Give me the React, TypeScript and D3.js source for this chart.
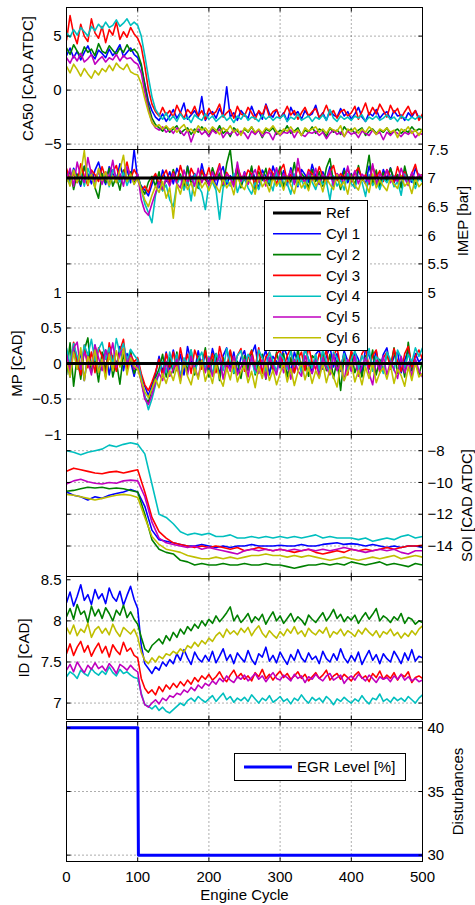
import * as d3 from 'd3';

// sample grid (engine cycle) for the logged signals
const CYCLES = d3.range(0, 501, 5);
const SOI_CYCLES = d3.range(0, 501, 10);
const REF_CYCLES = [0, 500];
const EGR_CYCLES = [0, 100, 101, 500];

const CYL_NAMES = ['Cyl 1', 'Cyl 2', 'Cyl 3', 'Cyl 4', 'Cyl 5', 'Cyl 6'];
const CYL_COLORS = ['#0000ff', '#008000', '#ff0000', '#00bfbf', '#bf00bf', '#bfbf00'];
const X_TICKS = [0, 100, 200, 300, 400, 500];

// ---- CA50 [CAD ATDC]
const ca50Cyl1 = [
  3.2, 3.9, 3.0, 3.6, 2.8, 3.5, 4.1, 3.3, 2.9, 3.7,
  3.4, 3.0, 3.8, 3.2, 3.6, 4.2, 3.1, 3.5, 3.9, 3.3,
  3.0, 2.2, 0.6, -1.0, -1.9, -2.5, -2.8, -2.2, -2.9, -2.4,
  -1.8, -2.6, -2.1, -1.2, -2.7, -2.3, -1.9, -2.5, -0.6, -2.8,
  -2.2, -2.0, -2.6, -1.7, -2.4, 0.3, -2.5, -2.1, -2.8, -1.9,
  -2.3, -2.6, -1.5, -2.4, -2.0, -2.7, -1.3, -2.2, -2.5, -1.8,
  -2.6, -2.1, -2.9, -1.6, -2.3, -2.0, -2.7, -1.9, -2.4, -2.2,
  -1.4, -2.6, -2.1, -2.8, -1.9, -2.3, -2.5, -1.7, -2.4, -2.0,
  -2.7, -2.2, -1.6, -2.5, -2.9, -2.1, -2.4, -1.8, -2.6, -2.2,
  -2.0, -2.7, -1.9, -2.4, -2.3, -2.8, -2.1, -2.5, -1.9, -2.6,
  -2.4,
];
const ca50Cyl2 = [
  3.9, 3.3, 4.2, 3.6, 3.1, 4.0, 3.5, 3.8, 3.2, 4.3,
  3.6, 3.4, 4.1, 3.7, 3.3, 3.9, 3.5, 4.2, 3.6, 3.8,
  3.4, 2.4, 0.4, -1.4, -2.6, -3.2, -3.5, -3.8, -3.4, -3.9,
  -3.6, -3.3, -4.0, -3.7, -3.5, -4.1, -3.6, -3.9, -3.4, -3.8,
  -4.2, -3.6, -3.9, -3.3, -4.0, -3.7, -4.3, -3.5, -3.8, -4.1,
  -3.6, -3.9, -3.4, -4.0, -3.7, -4.4, -3.6, -3.8, -3.5, -4.1,
  -3.7, -3.9, -3.3, -4.0, -3.8, -3.5, -4.2, -3.7, -3.9, -3.4,
  -4.0, -3.6, -3.8, -4.3, -3.5, -3.9, -3.7, -4.1, -3.4, -3.8,
  -3.6, -4.0, -3.7, -3.5, -4.2, -3.8, -3.6, -4.0, -3.7, -3.9,
  -3.5, -4.1, -3.8, -3.6, -4.0, -3.7, -3.9, -3.4, -3.8, -3.6,
  -3.7,
];
const ca50Cyl3 = [
  4.6, 6.9, 5.2, 4.3, 6.1, 5.0, 4.5, 6.6, 5.3, 4.8,
  5.9, 4.4, 5.6, 5.1, 6.3, 4.7, 5.4, 4.9, 5.8, 5.2,
  4.8, 4.0, 2.2, 0.1, -1.3, -2.0, -2.4, -1.6, -2.3, -1.9,
  -2.5, -1.4, -2.1, -2.6, -1.8, -2.2, -1.5, -2.4, -1.9, -2.7,
  -1.7, -2.3, -2.0, -1.3, -2.5, -2.1, -1.8, -2.6, -1.5, -2.2,
  -2.4, -1.6, -2.1, -2.7, -1.9, -2.3, -1.4, -2.5, -2.0, -1.8,
  -2.6, -2.2, -1.5, -2.3, -1.9, -2.7, -2.1, -1.6, -2.4, -2.0,
  -1.7, -2.5, -2.2, -1.4, -2.3, -1.9, -2.6, -2.0, -1.8, -2.4,
  -2.1, -1.5, -2.7, -2.0, -1.2, -2.3, -1.6, -2.2, -1.3, -1.9,
  -2.5, -1.4, -2.1, -1.7, -2.6, -2.0, -1.5, -2.3, -1.9, -2.8,
  -2.2,
];
const ca50Cyl4 = [
  5.3, 4.9, 5.6, 5.1, 5.8, 5.4, 5.0, 5.9, 5.5, 6.1,
  5.7, 6.3, 5.8, 6.0, 6.5, 5.9, 6.2, 6.6, 6.0, 6.3,
  6.0, 5.0, 3.2, 1.2, -0.6, -1.8, -2.3, -2.7, -2.1, -2.8,
  -2.4, -2.9, -2.2, -2.7, -2.5, -3.0, -2.3, -2.6, -2.8, -2.2,
  -2.7, -2.4, -2.9, -2.6, -2.3, -2.8, -2.5, -3.0, -2.4, -2.7,
  -2.2, -2.8, -2.5, -2.6, -2.9, -2.3, -2.7, -2.4, -2.8, -2.5,
  -2.6, -2.3, -2.9, -2.5, -2.7, -2.2, -2.8, -2.6, -2.4, -2.9,
  -2.5, -2.7, -2.3, -2.8, -1.8, -2.6, -2.9, -2.4, -2.7, -2.5,
  -2.8, -2.4, -2.6, -2.3, -2.9, -2.5, -2.7, -2.4, -2.8, -2.6,
  -2.3, -2.7, -2.5, -2.9, -2.4, -2.6, -2.8, -2.5, -2.7, -2.4,
  -2.6,
];
const ca50Cyl5 = [
  3.0, 2.5, 3.2, 2.7, 3.4, 2.6, 2.9, 3.3, 2.4, 2.8,
  3.1, 2.6, 3.0, 2.8, 3.3, 2.7, 3.2, 2.9, 3.0, 2.6,
  2.4, 1.6, -0.2, -1.8, -3.0, -3.5, -3.7, -3.4, -3.9, -3.6,
  -4.0, -3.5, -3.8, -4.2, -3.7, -4.8, -3.9, -3.6, -4.1, -3.8,
  -4.3, -3.7, -4.0, -3.6, -4.4, -3.9, -4.1, -3.7, -4.2, -3.8,
  -4.0, -4.5, -3.8, -4.1, -3.7, -4.3, -3.9, -4.0, -4.6, -3.8,
  -4.2, -3.9, -4.0, -3.7, -4.4, -3.8, -4.1, -4.3, -3.9, -4.0,
  -3.8, -4.2, -3.9, -4.5, -4.0, -3.7, -4.1, -3.9, -4.3, -3.8,
  -4.1, -3.9, -4.4, -3.8, -4.0, -4.2, -3.7, -4.1, -3.9, -4.6,
  -3.9, -4.2, -3.8, -4.0, -4.3, -3.9, -4.1, -3.8, -4.4, -4.0,
  -4.1,
];
const ca50Cyl6 = [
  2.2, 1.6, 2.4, 1.9, 1.3, 2.0, 1.5, 1.1, 1.8, 1.4,
  2.0, 1.7, 2.3, 1.8, 2.5, 2.1, 1.9, 2.4, 1.7, 1.5,
  1.4, 0.6, -0.8, -2.0, -3.0, -3.4, -3.2, -3.6, -3.3, -3.7,
  -3.4, -3.9, -3.5, -3.2, -3.8, -3.6, -4.0, -3.3, -3.7, -3.5,
  -3.9, -3.4, -3.7, -4.1, -3.5, -3.8, -3.3, -3.9, -3.6, -4.2,
  -3.5, -3.8, -3.4, -3.9, -3.6, -4.0, -3.5, -3.7, -3.3, -3.8,
  -4.1, -3.6, -3.8, -3.4, -3.9, -3.7, -4.2, -3.5, -3.8, -3.6,
  -3.4, -3.9, -3.6, -4.0, -3.5, -3.7, -3.8, -3.3, -4.3, -3.6,
  -3.8, -3.5, -4.0, -3.6, -3.9, -3.4, -3.7, -4.1, -3.6, -3.8,
  -3.5, -3.9, -3.7, -4.4, -3.6, -3.8, -3.4, -4.0, -3.7, -4.2,
  -3.6,
];

// ---- IMEP [bar]
const imepRef = [7, 7];
const imepCyl1 = [
  7.11, 6.93, 7.17, 7.03, 6.86, 7.21, 7.07, 6.90, 7.14, 7.28,
  7.04, 6.89, 7.20, 7.08, 6.96, 7.25, 7.00, 7.15, 6.92, 7.50,
  6.97, 6.86, 6.79, 6.69, 6.89, 7.06, 6.83, 7.14, 6.94, 7.11,
  6.90, 7.17, 7.03, 6.80, 7.21, 6.97, 7.08, 6.87, 7.25, 7.00,
  6.93, 7.14, 6.83, 7.07, 7.20, 6.89, 7.04, 6.96, 7.22, 6.86,
  7.11, 6.92, 7.17, 6.99, 6.82, 7.14, 7.03, 6.90, 7.21, 7.01,
  6.94, 7.13, 6.87, 7.18, 7.00, 6.85, 7.15, 7.06, 6.93, 7.24,
  7.03, 6.89, 7.11, 6.97, 7.20, 6.86, 7.07, 6.99, 7.17, 6.92,
  7.08, 6.83, 7.14, 7.01, 6.90, 7.21, 6.96, 7.10, 6.87, 7.15,
  6.99, 7.18, 6.92, 7.06, 6.86, 7.13, 7.00, 6.93, 7.17, 7.04,
  6.96,
];
const imepCyl2 = [
  6.93, 7.14, 6.80, 7.07, 6.89, 7.20, 6.97, 7.11, 6.83, 6.65,
  7.08, 6.92, 7.17, 6.86, 7.03, 6.79, 7.14, 6.96, 7.11, 6.90,
  7.06, 6.83, 6.72, 6.93, 7.03, 6.86, 7.11, 6.78, 7.00, 6.89,
  7.15, 6.94, 7.07, 6.85, 7.20, 6.90, 7.03, 6.82, 7.13, 6.97,
  6.89, 7.18, 6.99, 7.08, 6.86, 7.25, 7.50, 6.93, 7.14, 6.83,
  7.04, 6.92, 7.21, 6.80, 7.11, 6.96, 7.17, 6.87, 7.07, 6.99,
  7.20, 6.85, 7.03, 6.93, 7.27, 6.89, 7.08, 7.00, 6.82, 7.15,
  6.94, 7.11, 6.86, 7.18, 7.34, 6.92, 7.04, 6.80, 7.13, 6.97,
  7.07, 6.87, 7.22, 6.96, 7.03, 7.40, 6.90, 7.14, 6.85, 7.10,
  6.93, 7.17, 6.99, 7.06, 6.83, 7.21, 6.94, 7.08, 6.89, 7.03,
  7.06,
];
const imepCyl3 = [
  7.17, 6.97, 7.08, 6.92, 7.25, 7.03, 6.87, 7.14, 7.06, 6.94,
  7.20, 7.00, 6.90, 7.11, 7.22, 6.96, 7.07, 7.28, 6.99, 7.15,
  7.03, 6.78, 6.86, 6.75, 6.97, 7.08, 6.90, 7.03, 7.14, 6.93,
  7.11, 6.92, 7.22, 7.00, 6.87, 7.17, 7.04, 6.94, 7.14, 6.97,
  7.18, 6.93, 7.06, 7.25, 6.89, 7.10, 7.00, 6.90, 7.20, 7.03,
  6.96, 7.14, 7.07, 6.86, 7.21, 7.01, 6.93, 7.17, 7.08, 6.89,
  7.13, 7.24, 6.94, 7.06, 6.97, 7.18, 7.01, 6.92, 7.15, 7.07,
  6.99, 7.20, 7.03, 6.90, 7.11, 7.22, 6.96, 7.08, 7.00, 7.17,
  6.92, 7.10, 7.18, 6.97, 7.06, 6.89, 7.21, 7.01, 7.13, 6.94,
  7.15, 7.04, 6.93, 7.20, 7.00, 7.11, 6.90, 7.08, 7.24, 6.97,
  7.07,
];
const imepCyl4 = [
  7.06, 6.89, 7.14, 6.96, 7.08, 6.86, 7.17, 7.00, 6.92, 7.11,
  6.94, 7.07, 6.85, 7.15, 7.03, 6.93, 7.10, 6.87, 7.04, 6.97,
  7.06, 6.80, 6.55, 6.40, 6.22, 6.70, 6.92, 6.78, 6.88, 6.62,
  6.50, 6.89, 7.03, 6.79, 6.97, 6.60, 7.06, 6.86, 6.75, 6.45,
  6.89, 6.93, 6.79, 6.28, 6.83, 6.97, 6.86, 7.08, 6.75, 6.93,
  7.00, 6.83, 6.72, 6.92, 6.80, 7.04, 6.89, 6.96, 6.78, 7.11,
  6.85, 7.03, 6.90, 6.72, 7.07, 6.87, 6.97, 6.82, 7.06, 6.93,
  6.80, 7.01, 6.89, 6.94, 6.62, 7.04, 6.86, 6.97, 6.79, 7.08,
  6.90, 6.83, 7.03, 6.93, 6.68, 7.06, 6.87, 6.96, 6.80, 7.00,
  6.92, 7.04, 6.85, 6.94, 6.70, 7.07, 6.89, 6.99, 6.82, 7.01,
  6.93,
];
const imepCyl5 = [
  6.97, 7.17, 6.86, 7.28, 7.03, 6.92, 7.36, 7.07, 6.94, 7.14,
  6.89, 7.11, 7.00, 7.31, 6.93, 7.08, 6.86, 7.20, 7.03, 6.96,
  7.07, 6.62, 6.42, 6.35, 6.55, 6.74, 6.93, 6.80, 7.00, 6.86,
  7.08, 6.90, 6.83, 7.14, 6.94, 7.03, 6.86, 7.17, 6.92, 7.06,
  6.87, 7.11, 6.96, 7.21, 6.90, 7.07, 7.00, 6.85, 7.28, 6.94,
  7.10, 6.89, 7.03, 7.15, 6.93, 7.06, 6.86, 7.13, 6.97, 7.18,
  6.92, 7.08, 6.99, 7.14, 6.89, 7.34, 7.01, 6.93, 7.11, 6.96,
  7.17, 6.90, 7.06, 6.97, 7.14, 6.87, 7.08, 7.00, 6.92, 7.21,
  6.96, 7.13, 6.90, 7.07, 7.01, 6.93, 7.25, 6.89, 7.08, 6.99,
  7.14, 6.92, 7.04, 6.94, 7.17, 7.00, 6.87, 7.10, 6.97, 7.07,
  7.03,
];
const imepCyl6 = [
  7.03, 6.86, 7.14, 6.93, 7.08, 7.48, 6.89, 7.06, 6.83, 7.17,
  6.96, 7.11, 6.87, 7.04, 6.92, 7.14, 7.40, 6.94, 7.07, 6.89,
  7.00, 6.80, 6.62, 6.50, 6.70, 6.86, 6.75, 6.94, 6.65, 6.83,
  6.30, 6.89, 6.72, 6.97, 6.80, 6.92, 6.69, 7.03, 6.83, 6.93,
  6.78, 6.96, 6.86, 6.75, 7.00, 6.83, 6.93, 6.71, 7.04, 6.87,
  6.80, 6.99, 6.89, 6.72, 7.06, 6.85, 6.94, 6.76, 7.01, 6.86,
  6.96, 6.79, 7.03, 6.87, 6.73, 7.00, 6.83, 6.93, 6.78, 7.04,
  6.86, 6.97, 6.76, 7.01, 6.89, 6.80, 7.06, 6.85, 6.94, 6.72,
  7.03, 6.87, 6.79, 7.00, 6.90, 6.75, 7.07, 6.83, 6.96, 6.86,
  6.78, 7.01, 6.89, 6.82, 7.04, 6.86, 6.93, 6.73, 7.00, 6.85,
  6.92,
];

// ---- MP [CAD]
const mpRef = [0, 0];
const mpCyl1 = [
  0.08, -0.19, 0.22, -0.08, 0.16, -0.24, 0.13, -0.03, 0.26, -0.13,
  0.06, 0.19, -0.16, 0.11, -0.06, 0.24, -0.10, 0.14, 0.03, -0.18,
  0.05, -0.18, -0.32, -0.45, -0.30, -0.15, 0.10, -0.13, 0.16, -0.08,
  0.19, -0.06, 0.13, -0.16, 0.24, 0.03, -0.11, 0.18, -0.05, 0.14,
  -0.10, 0.21, 0.02, -0.14, 0.11, 0.22, -0.06, 0.16, -0.13, 0.08,
  0.18, -0.08, 0.13, 0.26, -0.11, 0.05, 0.19, -0.16, 0.10, 0.03,
  -0.06, 0.22, 0.11, -0.13, 0.16, 0.02, -0.10, 0.21, 0.06, -0.14,
  0.13, 0.19, -0.08, 0.10, 0.24, -0.05, 0.14, -0.11, 0.18, 0.03,
  -0.10, 0.16, 0.06, -0.14, 0.21, 0.11, -0.03, 0.18, -0.08, 0.13,
  0.22, -0.06, 0.10, 0.16, -0.13, 0.05, 0.19, -0.10, 0.14, 0.02,
  0.08,
];
const mpCyl2 = [
  -0.16, 0.29, -0.32, 0.10, -0.22, 0.19, 0.36, -0.13, 0.06, -0.26,
  0.16, -0.10, 0.24, -0.19, 0.03, -0.29, 0.13, -0.06, 0.19, -0.14,
  -0.03, -0.24, -0.48, -0.55, -0.36, -0.20, -0.08, 0.13, -0.19, 0.08,
  -0.13, 0.16, -0.22, 0.06, -0.10, 0.19, -0.16, 0.10, -0.03, 0.22,
  -0.19, 0.05, 0.14, -0.24, 0.08, -0.06, 0.18, -0.14, 0.03, -0.21,
  0.11, -0.10, 0.19, -0.16, 0.02, 0.13, -0.22, 0.06, -0.11, 0.16,
  -0.05, 0.14, -0.19, 0.08, -0.13, 0.21, -0.08, 0.03, -0.18, 0.11,
  0.06, -0.14, 0.18, -0.10, 0.13, -0.21, 0.05, -0.38, 0.10, -0.06,
  0.16, -0.13, 0.03, -0.19, 0.11, -0.08, 0.19, -0.16, 0.06, -0.11,
  0.14, -0.05, 0.22, -0.14, 0.08, -0.19, 0.30, -0.10, 0.05, -0.16,
  0.03,
];
const mpCyl3 = [
  0.19, -0.10, 0.30, 0.03, -0.16, 0.26, -0.06, 0.16, -0.13, 0.22,
  0.10, -0.19, 0.29, 0.05, -0.11, 0.18, 0.34, -0.08, 0.13, 0.02,
  0.08, -0.14, -0.30, -0.38, -0.26, -0.12, 0.06, -0.18, 0.14, -0.05,
  0.16, -0.10, 0.22, -0.03, 0.13, -0.14, 0.19, 0.05, -0.08, 0.18,
  -0.05, 0.14, -0.13, 0.24, 0.03, -0.10, 0.19, -0.06, 0.11, 0.21,
  -0.11, 0.08, 0.18, -0.05, 0.22, -0.14, 0.10, 0.16, -0.08, 0.13,
  0.19, -0.06, 0.11, 0.21, -0.13, 0.06, 0.16, -0.10, 0.24, 0.02,
  -0.08, 0.14, 0.03, 0.19, -0.11, 0.10, 0.22, -0.05, 0.13, -0.16,
  0.18, 0.05, -0.10, 0.14, 0.22, -0.06, 0.11, 0.19, -0.13, 0.08,
  0.16, -0.08, 0.21, 0.03, -0.11, 0.14, 0.24, -0.05, 0.10, 0.19,
  0.06,
];
const mpCyl4 = [
  0.22, -0.02, 0.28, 0.10, -0.08, 0.26, 0.12, 0.34, 0.04, 0.20,
  0.30, 0.06, 0.22, -0.02, 0.35, 0.14, 0.28, 0.04, 0.20, 0.12,
  0.05, -0.20, -0.45, -0.65, -0.50, -0.30, -0.14, 0.03, -0.13, 0.16,
  -0.06, 0.13, -0.19, 0.08, -0.03, 0.19, -0.13, 0.06, 0.16, -0.08,
  0.10, -0.16, 0.14, 0.03, -0.10, 0.21, 0.02, -0.13, 0.11, 0.18,
  -0.06, 0.13, 0.05, -0.14, 0.19, 0.08, -0.10, 0.16, 0.03, -0.11,
  0.14, 0.06, -0.08, 0.18, -0.03, 0.11, -0.14, 0.21, 0.05, -0.06,
  0.13, -0.10, 0.19, 0.02, -0.13, 0.16, 0.08, -0.05, 0.14, -0.11,
  0.06, 0.18, -0.08, 0.11, -0.03, 0.21, -0.11, 0.10, 0.03, -0.14,
  0.16, 0.05, -0.10, 0.19, 0.08, -0.06, 0.13, 0.02, 0.22, 0.10,
  0.22,
];
const mpCyl5 = [
  0.13, -0.13, 0.22, 0.30, -0.08, 0.16, 0.03, -0.16, 0.26, 0.08,
  -0.10, 0.19, 0.06, 0.29, -0.05, 0.14, 0.21, 0.00, 0.11, -0.08,
  -0.03, -0.26, -0.50, -0.58, -0.44, -0.26, -0.14, -0.24, 0.03, -0.18,
  -0.08, 0.06, -0.24, 0.03, -0.16, 0.10, -0.06, -0.19, 0.05, -0.13,
  0.08, -0.18, -0.03, 0.13, -0.22, 0.02, -0.11, 0.10, -0.16, -0.05,
  0.06, -0.19, 0.11, -0.08, -0.14, 0.05, -0.21, 0.08, -0.03, -0.16,
  0.10, -0.13, 0.03, -0.22, 0.06, -0.10, -0.18, 0.11, -0.05, -0.14,
  0.05, -0.19, 0.08, -0.06, -0.16, 0.13, -0.10, 0.02, -0.24, 0.06,
  -0.11, 0.10, -0.18, -0.03, 0.08, -0.14, -0.30, 0.05, -0.10, 0.11,
  -0.16, 0.03, -0.08, -0.21, 0.10, -0.13, 0.02, -0.18, 0.06, -0.10,
  -0.19,
];
const mpCyl6 = [
  0.03, -0.19, 0.16, -0.08, 0.22, -0.24, 0.10, -0.03, 0.19, -0.13,
  0.06, -0.22, 0.13, -0.10, 0.18, -0.05, 0.21, -0.16, 0.08, -0.03,
  -0.08, -0.24, -0.40, -0.48, -0.36, -0.22, -0.34, -0.14, -0.28, -0.10,
  -0.24, -0.04, -0.28, 0.02, -0.18, -0.30, -0.06, -0.22, 0.04, -0.25,
  -0.10, -0.28, 0.00, -0.20, -0.32, -0.06, -0.23, 0.03, -0.26, -0.12,
  -0.03, -0.27, -0.11, -0.34, -0.04, -0.21, 0.02, -0.24, -0.09, -0.30,
  -0.14, 0.01, -0.26, -0.07, -0.31, -0.12, 0.02, -0.23, -0.05, -0.28,
  -0.10, -0.21, 0.00, -0.27, -0.08, -0.19, -0.33, -0.02, -0.24, -0.11,
  0.02, -0.26, -0.10, -0.30, -0.05, -0.21, 0.01, -0.27, -0.13, -0.06,
  -0.22, -0.02, -0.28, -0.08, -0.17, -0.32, -0.05, -0.24, 0.01, -0.19,
  -0.14,
];

// ---- SOI [CAD ATDC], every 10 cycles
const soiCyl1 = [
  -10.6, -10.8, -10.9, -11.1, -10.9, -11.0, -10.8, -10.7, -10.6, -10.45,
  -10.6, -11.5, -13.0, -13.6, -13.7, -13.8, -13.9, -14.0, -14.0, -13.9,
  -14.0, -14.1, -14.0, -14.1, -14.0, -14.0, -13.9, -14.0, -14.0, -14.0,
  -13.95, -14.0, -14.0, -13.9, -14.0, -14.0, -13.9, -13.85, -13.8, -13.9,
  -13.85, -13.9, -14.0, -13.9, -14.0, -14.1, -14.0, -14.1, -14.0, -14.0,
  -14.1,
];
const soiCyl2 = [
  -10.55, -10.5, -10.4, -10.3, -10.35, -10.3, -10.4, -10.35, -10.4, -10.5,
  -10.6, -12.0, -13.6, -14.2, -14.4, -14.5, -14.9, -15.0, -15.2, -15.1,
  -15.2, -15.2, -15.1, -15.2, -15.2, -15.1, -15.2, -15.2, -15.1, -15.2,
  -15.2, -15.3, -15.4, -15.3, -15.2, -15.2, -15.1, -15.2, -15.1, -15.2,
  -15.0, -15.1, -15.2, -15.1, -15.0, -15.2, -15.1, -15.2, -15.3, -15.1,
  -15.2,
];
const soiCyl3 = [
  -9.3, -9.1, -9.2, -9.3, -9.4, -9.45, -9.35, -9.3, -9.4, -9.3,
  -9.2, -10.6, -12.2, -13.1, -13.5, -13.8, -13.9, -14.0, -14.1, -14.0,
  -14.1, -14.0, -14.1, -14.2, -14.1, -14.3, -14.2, -14.1, -14.2, -14.3,
  -14.2, -14.3, -14.4, -14.3, -14.2, -14.4, -14.5, -14.4, -14.3, -14.4,
  -14.2, -14.3, -14.2, -14.3, -14.2, -14.1, -14.2, -14.1, -14.0, -14.0,
  -13.95,
];
const soiCyl4 = [
  -8.0, -8.1, -8.25, -8.1, -8.0, -7.9, -7.65, -7.75, -7.6, -7.5,
  -7.6, -8.2, -10.1, -12.0, -12.2, -12.6, -13.1, -13.3, -13.2, -13.3,
  -13.2, -13.4, -13.4, -13.3, -13.5, -13.5, -13.4, -13.5, -13.4, -13.5,
  -13.4, -13.5, -13.4, -13.5, -13.4, -13.3, -13.5, -13.4, -13.5, -13.5,
  -13.5, -13.6, -13.5, -13.7, -13.6, -13.5, -13.6, -13.4, -13.3, -13.5,
  -13.4,
];
const soiCyl5 = [
  -10.1, -9.9, -9.8, -9.95, -10.05, -10.1, -10.0, -10.05, -9.9, -9.85,
  -9.9, -10.9, -12.5, -13.5, -13.8, -13.9, -14.0, -14.1, -14.0, -14.2,
  -14.1, -14.2, -14.3, -14.4, -14.5, -14.3, -14.2, -14.3, -14.2, -14.3,
  -14.2, -14.3, -14.2, -14.3, -14.2, -14.3, -14.2, -14.3, -14.2, -14.1,
  -14.2, -14.3, -14.4, -14.3, -14.2, -14.3, -14.2, -14.4, -14.5, -14.3,
  -14.3,
];
const soiCyl6 = [
  -10.75, -10.8, -10.9, -11.0, -11.1, -11.0, -10.9, -10.8, -10.75, -10.8,
  -10.95, -12.2, -13.4, -13.9, -14.2, -14.3, -14.4, -14.6, -14.7, -14.8,
  -14.8, -14.7, -14.8, -14.7, -14.8, -14.7, -14.6, -14.6, -14.5, -14.6,
  -14.6, -14.7, -14.6, -14.7, -14.6, -14.7, -14.8, -14.9, -14.8, -14.7,
  -14.8, -14.9, -14.8, -14.7, -14.8, -14.7, -14.6, -14.8, -14.7, -14.6,
  -14.7,
];

// ---- ID [CAD]
const idCyl1 = [
  8.22, 8.35, 8.18, 8.30, 8.44, 8.25, 8.32, 8.20, 8.38, 8.27,
  8.33, 8.21, 8.40, 8.29, 8.24, 8.36, 8.19, 8.31, 8.42, 8.26,
  8.15, 7.70, 7.48, 7.42, 7.36, 7.44, 7.40, 7.50, 7.45, 7.53,
  7.48, 7.60, 7.52, 7.65, 7.55, 7.47, 7.62, 7.54, 7.50, 7.58,
  7.51, 7.63, 7.49, 7.57, 7.66, 7.52, 7.59, 7.48, 7.61, 7.55,
  7.50, 7.64, 7.53, 7.47, 7.60, 7.56, 7.68, 7.51, 7.58, 7.49,
  7.62, 7.54, 7.47, 7.59, 7.52, 7.65, 7.55, 7.50, 7.61, 7.53,
  7.57, 7.48, 7.63, 7.54, 7.50, 7.60, 7.52, 7.66, 7.55, 7.49,
  7.58, 7.51, 7.62, 7.47, 7.56, 7.64, 7.52, 7.59, 7.48, 7.60,
  7.54, 7.50, 7.63, 7.56, 7.48, 7.61, 7.52, 7.65, 7.51, 7.57,
  7.55,
];
const idCyl2 = [
  8.05, 8.15, 8.02, 8.20, 8.08, 8.12, 7.98, 8.18, 8.06, 8.14,
  8.03, 8.16, 8.09, 8.00, 8.13, 8.07, 8.19, 8.04, 8.11, 8.02,
  7.96, 7.80, 7.66, 7.62, 7.70, 7.74, 7.78, 7.72, 7.82, 7.76,
  7.86, 7.80, 7.90, 7.84, 7.93, 7.88, 7.96, 7.91, 8.00, 7.94,
  8.02, 7.97, 8.06, 7.99, 8.04, 8.10, 8.17, 8.00, 8.07, 7.98,
  8.03, 8.09, 7.98, 8.05, 8.01, 8.08, 7.96, 8.04, 8.11, 8.00,
  8.06, 7.97, 8.03, 8.09, 7.99, 8.05, 8.01, 7.95, 8.07, 8.02,
  7.98, 8.04, 8.10, 8.00, 8.06, 8.14, 8.03, 8.08, 7.99, 8.05,
  8.01, 8.07, 7.97, 8.04, 8.10, 8.02, 8.08, 8.15, 8.00, 8.06,
  8.03, 7.98, 8.05, 8.01, 8.09, 7.97, 8.04, 8.02, 7.96, 8.00,
  7.98,
];
const idCyl3 = [
  7.60, 7.72, 7.58, 7.68, 7.75, 7.62, 7.70, 7.57, 7.66, 7.73,
  7.61, 7.69, 7.56, 7.71, 7.64, 7.59, 7.74, 7.63, 7.67, 7.58,
  7.55, 7.30, 7.18, 7.12, 7.16, 7.10, 7.20, 7.14, 7.22, 7.17,
  7.24, 7.19, 7.26, 7.21, 7.28, 7.23, 7.31, 7.26, 7.33, 7.29,
  7.35, 7.28, 7.32, 7.38, 7.30, 7.26, 7.34, 7.40, 7.31, 7.36,
  7.29, 7.33, 7.27, 7.37, 7.32, 7.41, 7.30, 7.35, 7.28, 7.34,
  7.39, 7.31, 7.36, 7.29, 7.33, 7.38, 7.30, 7.35, 7.27, 7.32,
  7.37, 7.30, 7.34, 7.40, 7.28, 7.33, 7.36, 7.29, 7.35, 7.31,
  7.27, 7.34, 7.38, 7.30, 7.33, 7.26, 7.36, 7.31, 7.39, 7.29,
  7.34, 7.30, 7.37, 7.28, 7.35, 7.32, 7.38, 7.25, 7.31, 7.33,
  7.30,
];
const idCyl4 = [
  7.32, 7.38, 7.35, 7.30, 7.40, 7.36, 7.33, 7.42, 7.37, 7.34,
  7.39, 7.35, 7.44, 7.37, 7.33, 7.41, 7.36, 7.38, 7.34, 7.31,
  7.30, 7.12, 6.98, 6.96, 6.93, 6.97, 6.91, 6.95, 6.90, 6.88,
  6.92, 6.96, 7.00, 6.97, 7.03, 7.06, 7.02, 7.08, 7.04, 7.01,
  7.05, 7.09, 7.02, 7.07, 7.12, 7.04, 7.08, 7.01, 7.06, 7.03,
  7.07, 7.02, 7.10, 7.05, 7.00, 7.06, 7.03, 7.09, 7.01, 7.04,
  7.08, 7.02, 7.05, 6.99, 7.06, 7.03, 7.10, 7.04, 7.00, 7.07,
  7.03, 7.06, 7.01, 7.08, 7.04, 6.98, 7.05, 7.02, 7.07, 7.03,
  7.00, 7.05, 7.02, 7.09, 7.03, 6.99, 7.06, 7.04, 7.11, 7.02,
  7.05, 7.01, 7.07, 7.03, 7.06, 7.02, 7.08, 7.04, 7.00, 7.06,
  7.10,
];
const idCyl5 = [
  7.40, 7.47, 7.38, 7.50, 7.43, 7.37, 7.46, 7.41, 7.49, 7.42,
  7.45, 7.39, 7.48, 7.43, 7.36, 7.47, 7.44, 7.40, 7.46, 7.41,
  7.38, 7.10, 6.98, 6.95, 7.00, 7.04, 6.99, 7.06, 7.03, 7.09,
  7.07, 7.12, 7.10, 7.16, 7.13, 7.19, 7.15, 7.22, 7.18, 7.24,
  7.21, 7.27, 7.23, 7.30, 7.26, 7.33, 7.28, 7.25, 7.32, 7.29,
  7.34, 7.27, 7.31, 7.36, 7.29, 7.33, 7.26, 7.32, 7.37, 7.30,
  7.28, 7.34, 7.31, 7.27, 7.35, 7.30, 7.33, 7.25, 7.32, 7.29,
  7.35, 7.30, 7.27, 7.33, 7.36, 7.28, 7.31, 7.34, 7.24, 7.30,
  7.33, 7.28, 7.35, 7.31, 7.27, 7.34, 7.30, 7.25, 7.32, 7.29,
  7.31, 7.26, 7.33, 7.29, 7.35, 7.28, 7.32, 7.27, 7.30, 7.26,
  7.28,
];
const idCyl6 = [
  7.92, 7.84, 7.95, 7.82, 7.90, 7.86, 7.97, 7.80, 7.89, 7.93,
  7.85, 7.91, 7.83, 7.96, 7.87, 7.81, 7.92, 7.88, 7.84, 7.90,
  7.80, 7.62, 7.52, 7.48, 7.55, 7.50, 7.57, 7.54, 7.60, 7.58,
  7.63, 7.60, 7.66, 7.62, 7.70, 7.67, 7.74, 7.69, 7.76, 7.72,
  7.79, 7.75, 7.82, 7.86, 7.80, 7.90, 7.84, 7.88, 7.83, 7.91,
  7.86, 7.92, 7.82, 7.89, 7.94, 7.85, 7.80, 7.88, 7.83, 7.79,
  7.87, 7.82, 7.90, 7.85, 7.93, 7.84, 7.88, 7.81, 7.91, 7.86,
  7.83, 7.89, 7.85, 7.92, 7.80, 7.87, 7.84, 7.90, 7.82, 7.88,
  7.85, 7.81, 7.89, 7.84, 7.91, 7.86, 7.82, 7.88, 7.80, 7.87,
  7.84, 7.90, 7.82, 7.86, 7.79, 7.85, 7.81, 7.88, 7.83, 7.90,
  7.94,
];

// ---- Disturbances
const egrLevel = [40, 40, 30, 30];

type Series = { xs: number[]; ys: number[]; color: string; width: number };
type Panel = {
  id: string;
  top: number;
  bottom: number;
  domain: [number, number];
  side: 'left' | 'right';
  ticks: number[];
  grid: number[];
  label: string;
  labelX: number;
  series: Series[];
};

const cylSeries = (xs: number[], sets: number[][]): Series[] =>
  sets.map((ys, i) => ({ xs, ys, color: CYL_COLORS[i], width: 1.6 }));

const PLOT_LEFT = 66.5;
const PLOT_RIGHT = 422.5;
const FONT = "'Liberation Sans', Arial, Helvetica, sans-serif";

const panels: Panel[] = [
  {
    id: 'ca50', top: 7.5, bottom: 149.5, domain: [-5.5, 7.65], side: 'left',
    ticks: [-5, 0, 5], grid: [-5, 0, 5], label: 'CA50 [CAD ATDC]', labelX: 28,
    series: cylSeries(CYCLES, [ca50Cyl1, ca50Cyl2, ca50Cyl3, ca50Cyl4, ca50Cyl5, ca50Cyl6]),
  },
  {
    id: 'imep', top: 149.5, bottom: 292.5, domain: [5, 7.5], side: 'right',
    ticks: [5, 5.5, 6, 6.5, 7, 7.5], grid: [5.5, 6, 6.5, 7], label: 'IMEP [bar]', labelX: 463,
    series: [
      ...cylSeries(CYCLES, [imepCyl1, imepCyl2, imepCyl3, imepCyl4, imepCyl5, imepCyl6]),
      { xs: REF_CYCLES, ys: imepRef, color: '#000', width: 3 },
    ],
  },
  {
    id: 'mp', top: 292.5, bottom: 434.5, domain: [-1, 1], side: 'left',
    ticks: [-1, -0.5, 0, 0.5, 1], grid: [-0.5, 0, 0.5], label: 'MP [CAD]', labelX: 17,
    series: [
      ...cylSeries(CYCLES, [mpCyl1, mpCyl2, mpCyl3, mpCyl4, mpCyl5, mpCyl6]),
      { xs: REF_CYCLES, ys: mpRef, color: '#000', width: 3 },
    ],
  },
  {
    id: 'soi', top: 434.5, bottom: 576.5, domain: [-15.92, -6.98], side: 'right',
    ticks: [-14, -12, -10, -8], grid: [-14, -12, -10, -8], label: 'SOI [CAD ATDC]', labelX: 467,
    series: cylSeries(SOI_CYCLES, [soiCyl1, soiCyl2, soiCyl3, soiCyl4, soiCyl5, soiCyl6]),
  },
  {
    id: 'id', top: 576.5, bottom: 719.5, domain: [6.8, 8.54], side: 'left',
    ticks: [7, 7.5, 8, 8.5], grid: [7, 7.5, 8], label: 'ID [CAD]', labelX: 24,
    series: cylSeries(CYCLES, [idCyl1, idCyl2, idCyl3, idCyl4, idCyl5, idCyl6]),
  },
  {
    id: 'dist', top: 721.5, bottom: 861.5, domain: [29.5, 40.5], side: 'right',
    ticks: [30, 35, 40], grid: [30, 35, 40], label: 'Disturbances', labelX: 458,
    series: [{ xs: EGR_CYCLES, ys: egrLevel, color: '#0000ff', width: 3 }],
  },
];

const fmt = (v: number) => String(v).replace('-', '\u2212');

export default function App() {
  const x = d3.scaleLinear().domain([0, 500]).range([PLOT_LEFT, PLOT_RIGHT]);

  return (
    <svg
      width={475}
      height={905}
      style={{ position: 'absolute', left: 0, top: 0, background: '#fff' }}
      fontFamily={FONT}
      fontSize={15}
    >
      <rect width={475} height={905} fill="#fff" />
      <defs>
        {panels.map(p => (
          <clipPath id={`clip-${p.id}`} key={p.id}>
            <rect x={PLOT_LEFT} y={p.top} width={PLOT_RIGHT - PLOT_LEFT} height={p.bottom - p.top} />
          </clipPath>
        ))}
      </defs>

      {panels.map(p => {
        const y = d3.scaleLinear().domain(p.domain).range([p.bottom, p.top]);
        const mid = (p.top + p.bottom) / 2;
        return (
          <g key={p.id}>
            {/* grid */}
            <g stroke="#333" strokeWidth={0.8} strokeDasharray="1 3">
              {X_TICKS.slice(1, -1).map(t => (
                <line key={`gx${t}`} x1={x(t)} x2={x(t)} y1={p.top} y2={p.bottom} />
              ))}
              {p.grid.map(t => (
                <line key={`gy${t}`} x1={PLOT_LEFT} x2={PLOT_RIGHT} y1={y(t)} y2={y(t)} />
              ))}
            </g>

            {/* data */}
            <g clipPath={`url(#clip-${p.id})`} fill="none" strokeLinejoin="round">
              {p.series.map((s, i) => {
                const line = d3.line<number>().x((_, j) => x(s.xs[j])).y(d => y(d));
                return <path key={i} d={line(s.ys) ?? ''} stroke={s.color} strokeWidth={s.width} />;
              })}
            </g>

            {/* ticks */}
            <g stroke="#000" strokeWidth={1}>
              {X_TICKS.map(t => (
                <g key={`tx${t}`}>
                  <line x1={x(t)} x2={x(t)} y1={p.bottom} y2={p.bottom - 4} />
                  <line x1={x(t)} x2={x(t)} y1={p.top} y2={p.top + 4} />
                </g>
              ))}
              {p.ticks.map(t => (
                <g key={`ty${t}`}>
                  <line x1={PLOT_LEFT} x2={PLOT_LEFT + 4} y1={y(t)} y2={y(t)} />
                  <line x1={PLOT_RIGHT} x2={PLOT_RIGHT - 4} y1={y(t)} y2={y(t)} />
                </g>
              ))}
            </g>

            {/* frame */}
            <rect
              x={PLOT_LEFT}
              y={p.top}
              width={PLOT_RIGHT - PLOT_LEFT}
              height={p.bottom - p.top}
              fill="none"
              stroke="#000"
              strokeWidth={1}
            />

            {/* tick labels */}
            {p.ticks.map(t => (
              <text
                key={`l${t}`}
                x={p.side === 'left' ? PLOT_LEFT - 5 : PLOT_RIGHT + 5}
                y={y(t)}
                dy="0.35em"
                textAnchor={p.side === 'left' ? 'end' : 'start'}
              >
                {fmt(t)}
              </text>
            ))}

            {/* axis label */}
            <text
              transform={`translate(${p.labelX},${mid}) rotate(-90)`}
              textAnchor="middle"
              dy="0.35em"
            >
              {p.label}
            </text>
          </g>
        );
      })}

      {/* x axis of the bottom panel */}
      {X_TICKS.map(t => (
        <text key={`xl${t}`} x={x(t)} y={882} textAnchor="middle">
          {t}
        </text>
      ))}
      <text x={(PLOT_LEFT + PLOT_RIGHT) / 2} y={900} textAnchor="middle">
        Engine Cycle
      </text>

      {/* cylinder legend */}
      <g>
        <rect x={264.5} y={200.5} width={103} height={150} fill="#fff" stroke="#000" strokeWidth={1} />
        {['Ref', ...CYL_NAMES].map((name, i) => {
          const yy = 213 + i * 20.8;
          return (
            <g key={name}>
              <line
                x1={273}
                x2={321}
                y1={yy}
                y2={yy}
                stroke={i === 0 ? '#000' : CYL_COLORS[i - 1]}
                strokeWidth={i === 0 ? 3 : 1.6}
              />
              <text x={326} y={yy} dy="0.35em">
                {name}
              </text>
            </g>
          );
        })}
      </g>

      {/* disturbance legend */}
      <g>
        <rect x={234.5} y={753.5} width={171} height={27} fill="#fff" stroke="#000" strokeWidth={1} />
        <line x1={244} x2={292} y1={767} y2={767} stroke="#0000ff" strokeWidth={3} />
        <text x={297} y={767} dy="0.35em">
          EGR Level [%]
        </text>
      </g>
    </svg>
  );
}
